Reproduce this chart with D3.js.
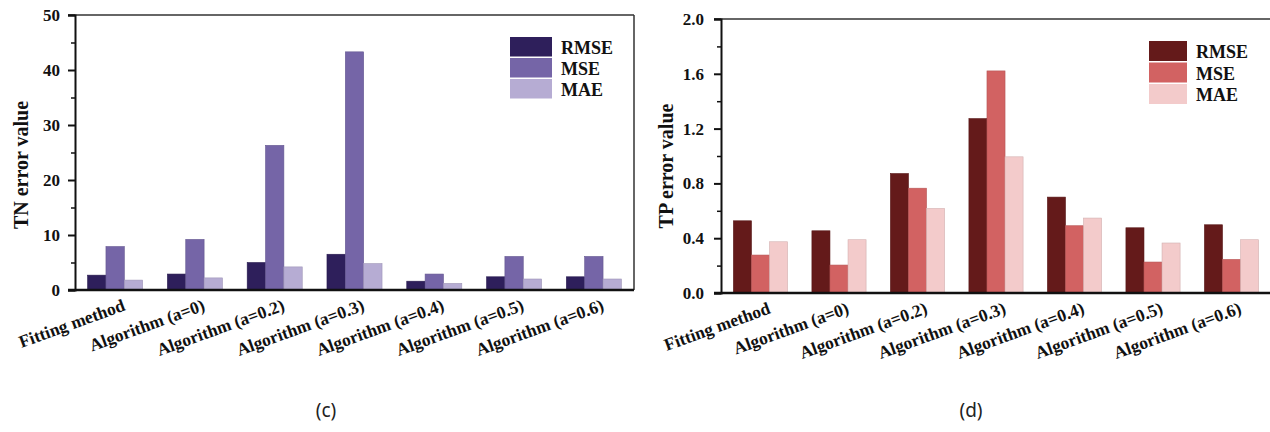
<!DOCTYPE html>
<html>
<head>
<meta charset="utf-8">
<script src="https://cdn.jsdelivr.net/npm/d3@7"></script>
<style>
  body { margin: 0; background: #fff; }
  svg { display: block; }
</style>
</head>
<body>
<div id="vis"></div>
<script>
// Categories and series
const categories = ['Fitting method', 'Algorithm (a=0)', 'Algorithm (a=0.2)', 'Algorithm (a=0.3)',
  'Algorithm (a=0.4)', 'Algorithm (a=0.5)', 'Algorithm (a=0.6)'];
const seriesNames = ['RMSE', 'MSE', 'MAE'];

// (c) TN error values
const tnRmse = [2.7, 2.9, 5.0, 6.5, 1.6, 2.4, 2.4];
const tnMse = [7.9, 9.2, 26.3, 43.3, 2.9, 6.1, 6.1];
const tnMae = [1.8, 2.2, 4.2, 4.8, 1.2, 2.0, 2.0];
const tnTicks = [0, 10, 20, 30, 40, 50];
const tnMinor = [5, 15, 25, 35, 45];

// (d) TP error values
const tpRmse = [0.527, 0.454, 0.872, 1.273, 0.70, 0.476, 0.498];
const tpMse = [0.277, 0.204, 0.765, 1.621, 0.491, 0.226, 0.245];
const tpMae = [0.374, 0.389, 0.617, 0.994, 0.547, 0.365, 0.389];
const tpTicks = [0, 0.4, 0.8, 1.2, 1.6, 2.0];
const tpMinor = [0.2, 0.6, 1.0, 1.4, 1.8];

const W = 1270, H = 432;
const svg = d3.select('#vis').append('svg').attr('width', W).attr('height', H);
const serif = '"Liberation Serif", "Times New Roman", serif';

function drawChart(opt) {
  const x0 = opt.x0, x1 = opt.x1, y0 = opt.y0, y1 = opt.y1;
  const g = svg.append('g');

  const x = d3.scaleBand().domain(categories).range([x0, x1]).paddingInner(0.31).paddingOuter(0.158);
  const xs = d3.scaleBand().domain(seriesNames).range([0, x.bandwidth()]);
  const y = d3.scaleLinear().domain([0, opt.max]).range([y1, y0]);

  // bars
  const rows = categories.map((c, i) => ({c, vals: opt.series.map((s, k) => ({k, v: s[i]}))}));
  g.selectAll('g.grp').data(rows).enter().append('g')
    .attr('transform', d => `translate(${x(d.c)},0)`)
    .selectAll('rect').data(d => d.vals).enter().append('rect')
    .attr('x', d => xs(seriesNames[d.k]))
    .attr('y', d => y(d.v))
    .attr('width', xs.bandwidth())
    .attr('height', d => y(0) - y(d.v))
    .attr('fill', d => opt.colors[d.k])
    .attr('stroke', d => d3.color(opt.colors[d.k]).darker(0.4))
    .attr('stroke-width', 0.6);

  // frame top / right
  g.append('line').attr('x1', x0 - 7).attr('x2', x1).attr('y1', y0).attr('y2', y0)
    .attr('stroke', '#333').attr('stroke-width', 1.5);
  g.append('line').attr('x1', x1).attr('x2', x1).attr('y1', y0).attr('y2', y1)
    .attr('stroke', '#333').attr('stroke-width', 1.5);

  // y axis
  const ya = g.append('g').attr('transform', `translate(${x0},0)`)
    .call(d3.axisLeft(y).tickValues(opt.ticks).tickSize(7).tickPadding(opt.pad).tickFormat(opt.fmt));
  ya.attr('font-family', serif).attr('font-size', 17).attr('font-weight', 'bold');
  ya.select('.domain').attr('stroke', '#111').attr('stroke-width', 2);
  ya.selectAll('.tick line').attr('stroke', '#111').attr('stroke-width', 2);
  ya.selectAll('.tick text').attr('fill', '#111');
  const ym = g.append('g').attr('transform', `translate(${x0},0)`)
    .call(d3.axisLeft(y).tickValues(opt.minor).tickSize(4).tickFormat(''));
  ym.select('.domain').remove();
  ym.selectAll('.tick line').attr('stroke', '#111').attr('stroke-width', 1.5);

  // x axis
  const xa = g.append('g').attr('transform', `translate(0,${y1})`)
    .call(d3.axisBottom(x).tickSize(0).tickSizeOuter(0));
  xa.attr('font-family', serif).attr('font-size', 17.5).attr('font-weight', 'bold');
  xa.select('.domain').attr('stroke', '#111').attr('stroke-width', 2.5)
    .attr('d', `M${x0 - 7},0H${x1}`);
  xa.selectAll('.tick text')
    .attr('fill', '#111')
    .attr('text-anchor', 'end')
    .attr('dy', 0)
    .attr('y', 0)
    .attr('transform', 'translate(11,20) rotate(-20)');

  // y title
  g.append('text')
    .attr('transform', `translate(${opt.titleX},${opt.titleY}) rotate(-90)`)
    .attr('text-anchor', 'middle')
    .attr('dy', '0.35em')
    .attr('font-family', serif).attr('font-weight', 'bold').attr('font-size', 20)
    .attr('fill', '#111')
    .text(opt.title);

  // legend
  const lg = g.append('g').attr('transform', `translate(${opt.legX},${opt.legY})`);
  seriesNames.forEach((s, k) => {
    lg.append('rect').attr('x', 0).attr('y', k * opt.legStep)
      .attr('width', opt.legW).attr('height', opt.legStep - 1.5)
      .attr('fill', opt.colors[k]);
    lg.append('text').attr('x', opt.legW + 9).attr('y', k * opt.legStep + opt.legStep / 2)
      .attr('dy', '0.36em')
      .attr('font-family', serif).attr('font-weight', 'bold').attr('font-size', 18)
      .attr('fill', '#111')
      .text(s);
  });

  // caption
  g.append('text').attr('x', opt.capX).attr('y', 417)
    .attr('text-anchor', 'middle')
    .attr('font-family', '"Noto Sans", "Open Sans", sans-serif').attr('font-size', 19)
    .attr('fill', '#222')
    .text(opt.cap);
}

drawChart({
  x0: 75, x1: 634, y0: 15, y1: 290, max: 50,
  series: [tnRmse, tnMse, tnMae],
  colors: ['#2e1f5b', '#7565a7', '#b6acd3'],
  ticks: tnTicks, minor: tnMinor, pad: 8, fmt: d3.format('d'),
  title: 'TN error value', titleX: 21, titleY: 165,
  legX: 510, legY: 37, legW: 42, legStep: 21,
  capX: 326, cap: '(c)'
});

drawChart({
  x0: 721, x1: 1271, y0: 19, y1: 293, max: 2.0,
  series: [tpRmse, tpMse, tpMae],
  colors: ['#641a1a', '#d26262', '#f3cbcb'],
  ticks: tpTicks, minor: tpMinor, pad: 10, fmt: d3.format('.1f'),
  title: 'TP error value', titleX: 666, titleY: 166,
  legX: 1149, legY: 41, legW: 38, legStep: 21.5,
  capX: 971, cap: '(d)'
});
</script>
</body>
</html>
